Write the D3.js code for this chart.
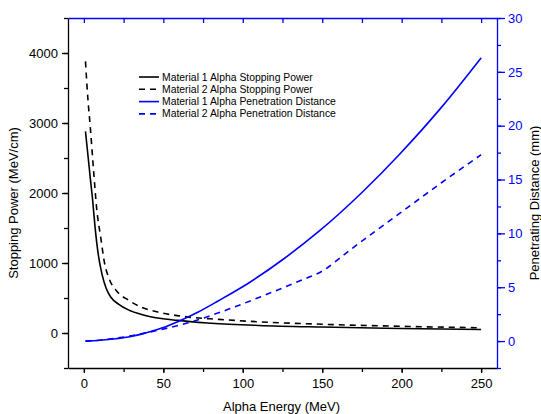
<!DOCTYPE html>
<html lang="en">
<head>
<meta charset="UTF-8">
<title>Alpha Stopping Power</title>
<script src="https://d3js.org/d3.v7.min.js"></script>
<style>
  body { margin:0; background:#fff; }
  text { font-family: "Liberation Sans", Arial, sans-serif; }
  .line { fill:none; stroke-width:1.6px; }
</style>
</head>
<body>
<script>
// Material 1 stopping power (MeV, MeV/cm)
var sp1E = [1, 2.5, 4, 5.5, 7, 9, 11.5, 14, 17, 22, 28, 38, 59, 80, 110, 150, 200, 250];
var sp1V = [2880, 2550, 2220, 1900, 1520, 1130, 830, 640, 510, 410, 330, 255, 180, 140, 108, 85, 65, 50];
// Material 2 stopping power
var sp2E = [1, 2.5, 4, 6, 8, 10.7, 13, 16, 21, 28, 36, 46.5, 65, 85, 110, 150, 200, 250];
var sp2V = [3880, 3350, 2950, 2350, 1790, 1350, 1000, 770, 590, 470, 370, 300, 230, 195, 160, 125, 95, 75];
// Material 1 penetration distance (MeV, mm)
var pd1E = [1, 10, 20, 28, 35, 42, 50, 59, 72, 85, 104, 125, 148, 175, 199, 225, 250];
var pd1V = [0, 0.08, 0.22, 0.38, 0.6, 0.88, 1.25, 1.8, 2.7, 3.77, 5.42, 7.55, 10.2, 13.8, 17.4, 21.7, 26.3];
// Material 2 penetration distance
var pd2E = [1, 10, 21, 30, 46.5, 65, 90, 111, 136, 150, 167, 200, 225, 250];
var pd2V = [0, 0.08, 0.28, 0.5, 1.0, 1.67, 2.9, 4.1, 5.6, 6.5, 8.4, 12.0, 14.7, 17.3];

var legendLabels = ["Material 1 Alpha Stopping Power", "Material 2 Alpha Stopping Power",
                    "Material 1 Alpha Penetration Distance", "Material 2 Alpha Penetration Distance"];

var width = 541, height = 414;
var mLeft = 68, mRight = 497, mTop = 18, mBottom = 368;
var blue = "#0000ff";

var svg = d3.select("body").append("svg")
            .attr("width", width).attr("height", height);

var x = d3.scaleLinear().domain([-10, 260]).range([mLeft, mRight]);
var yL = d3.scaleLinear().domain([-500, 4500]).range([mBottom, mTop]);
var yR = d3.scaleLinear().domain([-2.5, 30]).range([mBottom, mTop]);

function pairs(es, vs) { return es.map(function(e, i){ return [e, vs[i]]; }); }

// minor ticks
function minor(g, axis) { g.call(axis); g.selectAll("text").remove(); g.select(".domain").remove(); }

// bottom axis
svg.append("g").attr("transform", "translate(0," + mBottom + ")")
   .call(minor, d3.axisBottom(x).tickValues(d3.range(0, 251, 25)).tickSize(4));
var xAxis = svg.append("g").attr("transform", "translate(0," + mBottom + ")")
   .call(d3.axisBottom(x).tickValues(d3.range(0, 251, 50)).tickSize(5).tickSizeOuter(0).tickPadding(6));
// top axis (blue, inward ticks)
var topAxis = svg.append("g").attr("transform", "translate(0," + mTop + ")")
   .call(d3.axisTop(x).tickValues(d3.range(0, 251, 25)).tickSize(-5).tickSizeOuter(0).tickFormat(""));
topAxis.selectAll("line, path").attr("stroke", blue);

// left axis
svg.append("g").attr("transform", "translate(" + mLeft + ",0)")
   .call(minor, d3.axisLeft(yL).tickValues(d3.range(-500, 4501, 500)).tickSize(4));
var yAxisL = svg.append("g").attr("transform", "translate(" + mLeft + ",0)")
   .call(d3.axisLeft(yL).tickValues(d3.range(0, 4001, 1000)).tickSize(6).tickSizeOuter(0).tickPadding(4)
          .tickFormat(d3.format("d")));

// right axis
var rMinor = svg.append("g").attr("transform", "translate(" + mRight + ",0)")
   .call(minor, d3.axisRight(yR).tickValues(d3.range(-2.5, 30.1, 2.5)).tickSize(4));
var yAxisR = svg.append("g").attr("transform", "translate(" + mRight + ",0)")
   .call(d3.axisRight(yR).tickValues(d3.range(0, 31, 5)).tickSize(8).tickSizeOuter(0).tickPadding(3));
rMinor.selectAll("line").attr("stroke", blue);
yAxisR.selectAll("line, path").attr("stroke", blue);
yAxisR.selectAll("text").attr("fill", blue);

svg.selectAll(".tick text").attr("font-size", 13).attr("font-family", "Liberation Sans, Arial, sans-serif");
svg.selectAll(".domain, .tick line").attr("stroke-width", 1.3);

// axis titles
svg.append("text").attr("x", (mLeft + mRight) / 2 - 1).attr("y", 411)
   .attr("text-anchor", "middle").attr("font-size", 13).text("Alpha Energy (MeV)");
svg.append("text").attr("transform", "translate(18," + ((mTop + mBottom) / 2 + 10) + ") rotate(-90)")
   .attr("text-anchor", "middle").attr("font-size", 13).text("Stopping Power (MeV/cm)");
svg.append("text").attr("transform", "translate(539," + ((mTop + mBottom) / 2 + 10) + ") rotate(-90)")
   .attr("text-anchor", "middle").attr("font-size", 13).text("Penetrating Distance (mm)");

// curves
var lineL = d3.line().curve(d3.curveMonotoneX).x(function(d){ return x(d[0]); }).y(function(d){ return yL(d[1]); });
var lineR = d3.line().curve(d3.curveMonotoneX).x(function(d){ return x(d[0]); }).y(function(d){ return yR(d[1]); });

var series = [
  { d: lineL(pairs(sp1E, sp1V)), color: "#000", dash: null },
  { d: lineL(pairs(sp2E, sp2V)), color: "#000", dash: "6,5" },
  { d: lineR(pairs(pd1E, pd1V)), color: blue, dash: null },
  { d: lineR(pairs(pd2E, pd2V)), color: blue, dash: "6,5" }
];

svg.selectAll("path.line").data(series).enter().append("path")
   .attr("class", "line")
   .attr("d", function(s){ return s.d; })
   .attr("stroke", function(s){ return s.color; })
   .attr("stroke-dasharray", function(s){ return s.dash; });

// legend
var legend = svg.append("g").attr("transform", "translate(139,77)");
var items = legend.selectAll("g").data(series).enter().append("g")
   .attr("transform", function(s, i){ return "translate(0," + (i * 12.3) + ")"; });
items.append("line").attr("x1", 0).attr("x2", 20).attr("y1", 0).attr("y2", 0)
   .attr("stroke", function(s){ return s.color; }).attr("stroke-width", 1.6)
   .attr("stroke-dasharray", function(s){ return s.dash; });
items.append("text").attr("x", 23).attr("y", 3.5).attr("font-size", 10.4)
   .text(function(s, i){ return legendLabels[i]; });
</script>
</body>
</html>
